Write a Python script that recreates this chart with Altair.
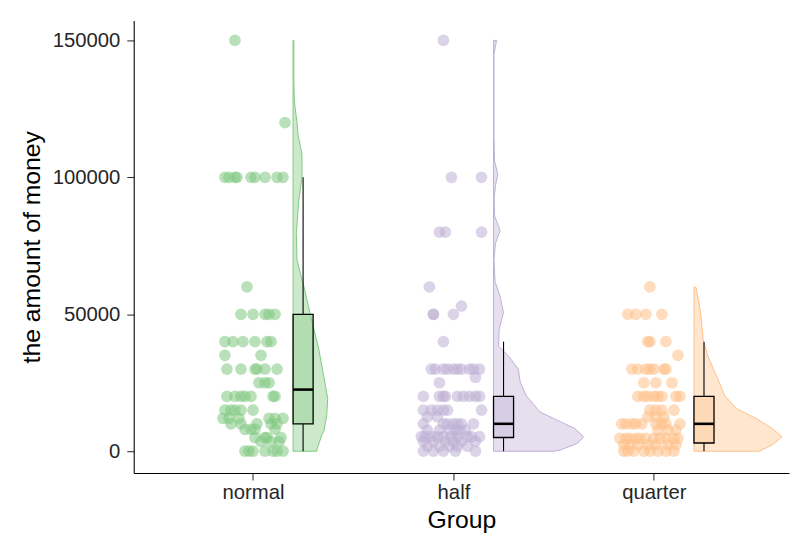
import altair as alt
import pandas as pd

# ---------------- data ----------------
groups = ["normal", "half", "quarter"]
colors = ["#7FC97F", "#BEAED4", "#FDC086"]

# jittered points: amount levels and horizontal jitter (hundredths of a category step)
normal_levels = [150000, 120000, 100000, 60000, 50000, 40000, 35000, 30000, 25000,
                 20000, 15000, 12000, 10000, 8000, 5000, 3500, 0]
normal_jitter = [[-9], [16], [-14, -12, -9, -8, -1, 1, 6, 12, 15], [-3],
                 [-6, 0, 6, 8, 11], [-14, -10, -5, 1, 7, 9], [-14, 4],
                 [-13, -6, 1, 2, 6, 12], [3, 6, 8], [-13, -9, -6, -4, -1, 10, 11],
                 [-14, -11, -9, -6, 0], [-15, -12, -7, 8, 11, 15], [-11, -6, 2, 9, 12],
                 [-4, -1, 1, 11], [1, 6, 7, 14], [4, 9, 13], [-4, -2, 0, 6, 10, 12, 15]]

half_levels = [150000, 100000, 80000, 60000, 53000, 50000, 40000, 30000, 27000, 25000,
               20000, 15000, 12500, 10000, 7700, 5300, 3600, 1800, 0]
half_jitter = [[-5], [-1, 14], [-7, -4, 14], [-12], [4], [-10, -10, 0], [-5],
               [-11, -9, -5, -3, 0, 2, 4, 8, 10, 13], [11], [-7],
               [-15, -7, -5, -4, 2, 5, 8, 11, 13], [-15, -11, -8, -5, -3, 14],
               [-13, -8], [-15, -5, -3, 0, 2, 4, 10], [-13, -7, -2, 1, 3, 6],
               [-16, -14, -11, -8, -5, -1, 2, 7, 9, 13], [-15, -10, -4, 0, 4, 11],
               [-13, -7, -2, 2, 7], [-15, -10, -5, 1, 11]]

quarter_levels = [60000, 50000, 40000, 35000, 30000, 25000, 20000, 15000, 12500,
                  10000, 7700, 4700, 2300, 0]
quarter_jitter = [[-2], [-13, -9, -4, 4], [-3, -2, 6], [12], [-11, -8, -4, -2, 0, 5, 6],
                  [-5, 1, 9], [-8, -5, -3, 0, 2, 4, 11, 13], [-2, 1, 4, 10], [-3, 1, 5],
                  [-16, -14, -11, -9, -6, 1, 4, 6, 13], [2, 7, 11],
                  [-17, -14, -12, -9, -7, -4, 0, 3, 6, 10, 12],
                  [-15, -12, -8, -3, 1, 7, 11], [-15, -13, -10, -5, -2, 2, 6, 10]]

# half-violin outlines: amount and relative density (half width)
normal_violin_amount = [0, 500, 5900, 7200, 13100, 19200, 25300, 37200, 50600, 60100,
                        69700, 79500, 91400, 100000, 108400, 115600, 120000, 127600,
                        135000, 150000]
normal_violin_density = [0.24, 0.24, 0.29, 0.31, 0.34, 0.35, 0.32, 0.26, 0.17, 0.11,
                         0.04, 0.033, 0.057, 0.09, 0.09, 0.05, 0.04, 0.013, 0.008, 0.008]

half_violin_amount = [0, 500, 2900, 5300, 8300, 10700, 14300, 20300, 25200, 30000, 34800,
                      38400, 44500, 50600, 56500, 62000, 70000, 76000, 80600, 86000,
                      92600, 97000, 101200, 106000, 115000, 145000, 150000]
half_violin_density = [0.62, 0.68, 0.85, 0.91, 0.82, 0.68, 0.47, 0.33, 0.27, 0.25, 0.15,
                       0.05, 0.057, 0.10, 0.067, 0.015, 0.005, 0.02, 0.067, 0.01,
                       0.007, 0.02, 0.043, 0.01, 0.005, 0.005, 0.03]

quarter_violin_amount = [0, 2300, 5300, 8300, 11900, 15500, 20300, 26400, 34800, 40800,
                         50500, 59900]
quarter_violin_density = [0.66, 0.79, 0.89, 0.79, 0.63, 0.43, 0.31, 0.24, 0.14, 0.093,
                          0.067, 0.02]

# boxplot summaries
box_low = [0, 0, 0]
box_q1 = [10000, 5000, 3000]
box_median = [22500, 10000, 10000]
box_q3 = [50000, 20000, 20000]
box_high = [100000, 40000, 40000]

# ---------------- layout ----------------
PX_PER_UNIT = 202.5
W, H = 662, 457
X_MIN = 0.405
X_MAX = X_MIN + W / PX_PER_UNIT
Y_MIN, Y_MAX = -7950, 157230
VIOLIN_OFFSET = 0.2
BOX_LEFT, BOX_RIGHT = 0.2, 0.3

levels_all = [normal_levels, half_levels, quarter_levels]
jitter_all = [normal_jitter, half_jitter, quarter_jitter]
vam_all = [normal_violin_amount, half_violin_amount, quarter_violin_amount]
vden_all = [normal_violin_density, half_violin_density, quarter_violin_density]

pts = []
for gi, g in enumerate(groups):
    for lv, js in zip(levels_all[gi], jitter_all[gi]):
        for j in js:
            pts.append({"group": g, "pos": gi + 1 + j / 100.0, "amount": lv})
pts = pd.DataFrame(pts)

vio = []
for gi, g in enumerate(groups):
    base = gi + 1 + VIOLIN_OFFSET
    for a, d in zip(vam_all[gi], vden_all[gi]):
        vio.append({"group": g, "amount": a, "base": base,
                    "edge": base + d * 100.0 / PX_PER_UNIT})
vio = pd.DataFrame(vio)

box = pd.DataFrame({
    "group": groups,
    "left": [i + 1 + BOX_LEFT for i in range(3)],
    "right": [i + 1 + BOX_RIGHT for i in range(3)],
    "mid": [i + 1 + (BOX_LEFT + BOX_RIGHT) / 2 for i in range(3)],
    "low": box_low, "q1": box_q1, "median": box_median, "q3": box_q3, "high": box_high,
})

label_expr = "[" + ",".join("'%s'" % g for g in groups) + "][datum.value - 1]"

xscale = alt.Scale(domain=[X_MIN, X_MAX], nice=False, zero=False)
yscale = alt.Scale(domain=[Y_MIN, Y_MAX], nice=False, zero=False)
cscale = alt.Scale(domain=groups, range=colors)

x_axis = alt.Axis(values=[1, 2, 3], labelExpr=label_expr, title="Group", grid=False,
                  labelPadding=3, titlePadding=5)
y_axis = alt.Axis(values=[0, 50000, 100000, 150000], format="d",
                  title="the amount of money", grid=False,
                  labelPadding=7, titlePadding=8)

points = alt.Chart(pts).mark_circle(size=140, opacity=0.55).encode(
    x=alt.X("pos:Q", scale=xscale, axis=x_axis),
    y=alt.Y("amount:Q", scale=yscale, axis=y_axis),
    color=alt.Color("group:N", scale=cscale, legend=None),
)

violins = alt.Chart(vio).mark_area(orient="horizontal", fillOpacity=0.4,
                                   strokeOpacity=1, strokeWidth=1).encode(
    y=alt.Y("amount:Q", scale=yscale),
    x=alt.X("edge:Q", scale=xscale),
    x2="base:Q",
    fill=alt.Fill("group:N", scale=cscale, legend=None),
    stroke=alt.Stroke("group:N", scale=cscale, legend=None),
    detail="group:N",
)

whisk_hi = alt.Chart(box).mark_rule(color="black", strokeWidth=1.1).encode(
    x=alt.X("mid:Q", scale=xscale), y=alt.Y("q3:Q", scale=yscale), y2="high:Q")
whisk_lo = alt.Chart(box).mark_rule(color="black", strokeWidth=1.1).encode(
    x=alt.X("mid:Q", scale=xscale), y=alt.Y("low:Q", scale=yscale), y2="q1:Q")

boxes = alt.Chart(box).mark_bar(fillOpacity=0.35, stroke="black", strokeWidth=1.3).encode(
    x=alt.X("left:Q", scale=xscale), x2="right:Q",
    y=alt.Y("q1:Q", scale=yscale), y2="q3:Q",
    fill=alt.Fill("group:N", scale=cscale, legend=None),
)

medians = alt.Chart(box).mark_rule(color="black", strokeWidth=2.6).encode(
    x=alt.X("left:Q", scale=xscale), x2="right:Q",
    y=alt.Y("median:Q", scale=yscale),
)

chart = alt.layer(points, violins, whisk_hi, whisk_lo, boxes, medians).properties(
    width=W, height=H,
    autosize=alt.AutoSizeParams(type="none"),
    padding={"left": 127, "top": 10, "right": 1, "bottom": 68},
).configure_view(stroke=None).configure_axis(
    labelFont="Liberation Sans", titleFont="Liberation Sans",
    labelFontSize=20.5, titleFontSize=25,
    labelColor="#262626", titleColor="black", titleFontWeight="normal",
    domainColor="black", domainWidth=1.1, tickColor="#333333", tickWidth=1.1,
    tickSize=7,
)

chart.save("out.html", embed_options={"renderer": "svg", "actions": False})
